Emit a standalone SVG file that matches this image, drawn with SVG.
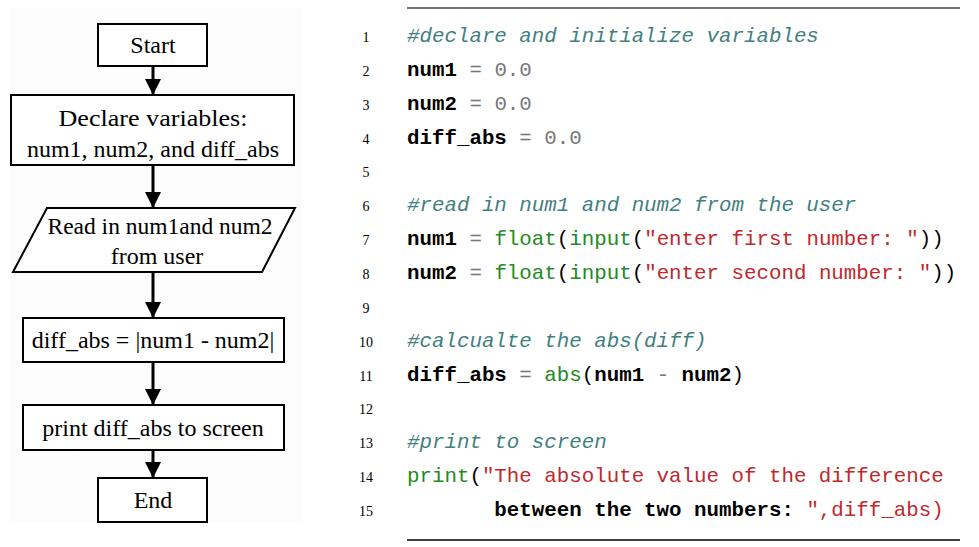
<svg xmlns="http://www.w3.org/2000/svg" width="979" height="547" viewBox="0 0 979 547">
<defs>
<marker id="ah" viewBox="0 0 16 16" refX="16" refY="8" markerWidth="16" markerHeight="16" markerUnits="userSpaceOnUse" orient="auto">
<path d="M0,0 L16,8 L0,16 z" fill="#000"/>
</marker>
<style>
.box{fill:#fff;stroke:#000;stroke-width:2}
.fc{font-family:"Liberation Serif","Times New Roman",serif;font-size:24px;fill:#000;text-anchor:middle}
.conn line{stroke:#000;stroke-width:3;marker-end:url(#ah)}
.ln{font-family:"Liberation Serif","Times New Roman",serif;font-size:14px;fill:#000;text-anchor:middle}
.code{font-family:"Liberation Mono","Courier New",monospace;font-size:20.8px;white-space:pre}
.cm{fill:#3f7f7f;font-style:italic}
.id{fill:#000;font-weight:bold}
.op{fill:#777}
.num{fill:#777}
.kw{fill:#228b22}
.str{fill:#c0282d}
.pl{fill:#000}
</style>
</defs>
<rect x="10" y="8" width="292" height="515" fill="#fcfcfc"/>

<g id="start"><rect class="box" x="98" y="24" width="109" height="42"/><text class="fc" x="153" y="53">Start</text></g>
<g id="declare"><rect class="box" x="11" y="95" width="283" height="70"/><text class="fc" x="153" y="126" textLength="189" lengthAdjust="spacingAndGlyphs">Declare variables:</text><text class="fc" x="153" y="157">num1, num2, and diff_abs</text></g>
<g id="read"><polygon class="box" points="47,208 295,208 262,272 13,272"/><text class="fc" x="160" y="234" textLength="225" lengthAdjust="spacingAndGlyphs">Read in num1and num2</text><text class="fc" x="157" y="264">from user</text></g>
<g id="calc"><rect class="box" x="23" y="318" width="261" height="44"/><text class="fc" x="153" y="348">diff_abs = |num1 - num2|</text></g>
<g id="print"><rect class="box" x="23" y="405" width="261" height="45"/><text class="fc" x="153" y="436">print diff_abs to screen</text></g>
<g id="end"><rect class="box" x="98" y="478" width="109" height="44"/><text class="fc" x="153" y="508">End</text></g>

<g class="conn" id="connectors">
<line x1="153" y1="66" x2="153" y2="95"/>
<line x1="153" y1="165" x2="153" y2="208"/>
<line x1="153" y1="272" x2="153" y2="318"/>
<line x1="153" y1="362" x2="153" y2="405"/>
<line x1="153" y1="450" x2="153" y2="478"/>
</g>

<g id="code">
<line x1="407" y1="8" x2="960" y2="8" stroke="#444" stroke-width="1.3"/>
<line x1="407" y1="540" x2="960" y2="540" stroke="#000" stroke-width="1.5"/>
<text class="ln" x="366" y="42">1</text>
<text class="ln" x="366" y="76">2</text>
<text class="ln" x="366" y="110">3</text>
<text class="ln" x="366" y="144">4</text>
<text class="ln" x="366" y="177">5</text>
<text class="ln" x="366" y="211">6</text>
<text class="ln" x="366" y="245">7</text>
<text class="ln" x="366" y="279">8</text>
<text class="ln" x="366" y="313">9</text>
<text class="ln" x="366" y="347">10</text>
<text class="ln" x="366" y="381">11</text>
<text class="ln" x="366" y="414">12</text>
<text class="ln" x="366" y="448">13</text>
<text class="ln" x="366" y="482">14</text>
<text class="ln" x="366" y="516">15</text>

<text class="code" x="407" y="42"><tspan class="cm">#declare and initialize variables</tspan></text>
<text class="code" x="407" y="76"><tspan class="id">num1</tspan><tspan class="op"> = </tspan><tspan class="num">0.0</tspan></text>
<text class="code" x="407" y="110"><tspan class="id">num2</tspan><tspan class="op"> = </tspan><tspan class="num">0.0</tspan></text>
<text class="code" x="407" y="144"><tspan class="id">diff_abs</tspan><tspan class="op"> = </tspan><tspan class="num">0.0</tspan></text>
<text class="code" x="407" y="211"><tspan class="cm">#read in num1 and num2 from the user</tspan></text>
<text class="code" x="407" y="245"><tspan class="id">num1</tspan><tspan class="op"> = </tspan><tspan class="kw">float</tspan><tspan class="pl">(</tspan><tspan class="kw">input</tspan><tspan class="pl">(</tspan><tspan class="str">"enter first number: "</tspan><tspan class="pl">))</tspan></text>
<text class="code" x="407" y="279"><tspan class="id">num2</tspan><tspan class="op"> = </tspan><tspan class="kw">float</tspan><tspan class="pl">(</tspan><tspan class="kw">input</tspan><tspan class="pl">(</tspan><tspan class="str">"enter second number: "</tspan><tspan class="pl">))</tspan></text>
<text class="code" x="407" y="347"><tspan class="cm">#calcualte the abs(diff)</tspan></text>
<text class="code" x="407" y="381"><tspan class="id">diff_abs</tspan><tspan class="op"> = </tspan><tspan class="kw">abs</tspan><tspan class="pl">(</tspan><tspan class="id">num1</tspan><tspan class="op"> - </tspan><tspan class="id">num2</tspan><tspan class="pl">)</tspan></text>
<text class="code" x="407" y="448"><tspan class="cm">#print to screen</tspan></text>
<text class="code" x="407" y="482"><tspan class="kw">print</tspan><tspan class="pl">(</tspan><tspan class="str">"The absolute value of the difference</tspan></text>
<text class="code" x="407" y="516"><tspan class="id">       between the two numbers: </tspan><tspan class="str">",diff_abs)</tspan></text>
</g>
</svg>
